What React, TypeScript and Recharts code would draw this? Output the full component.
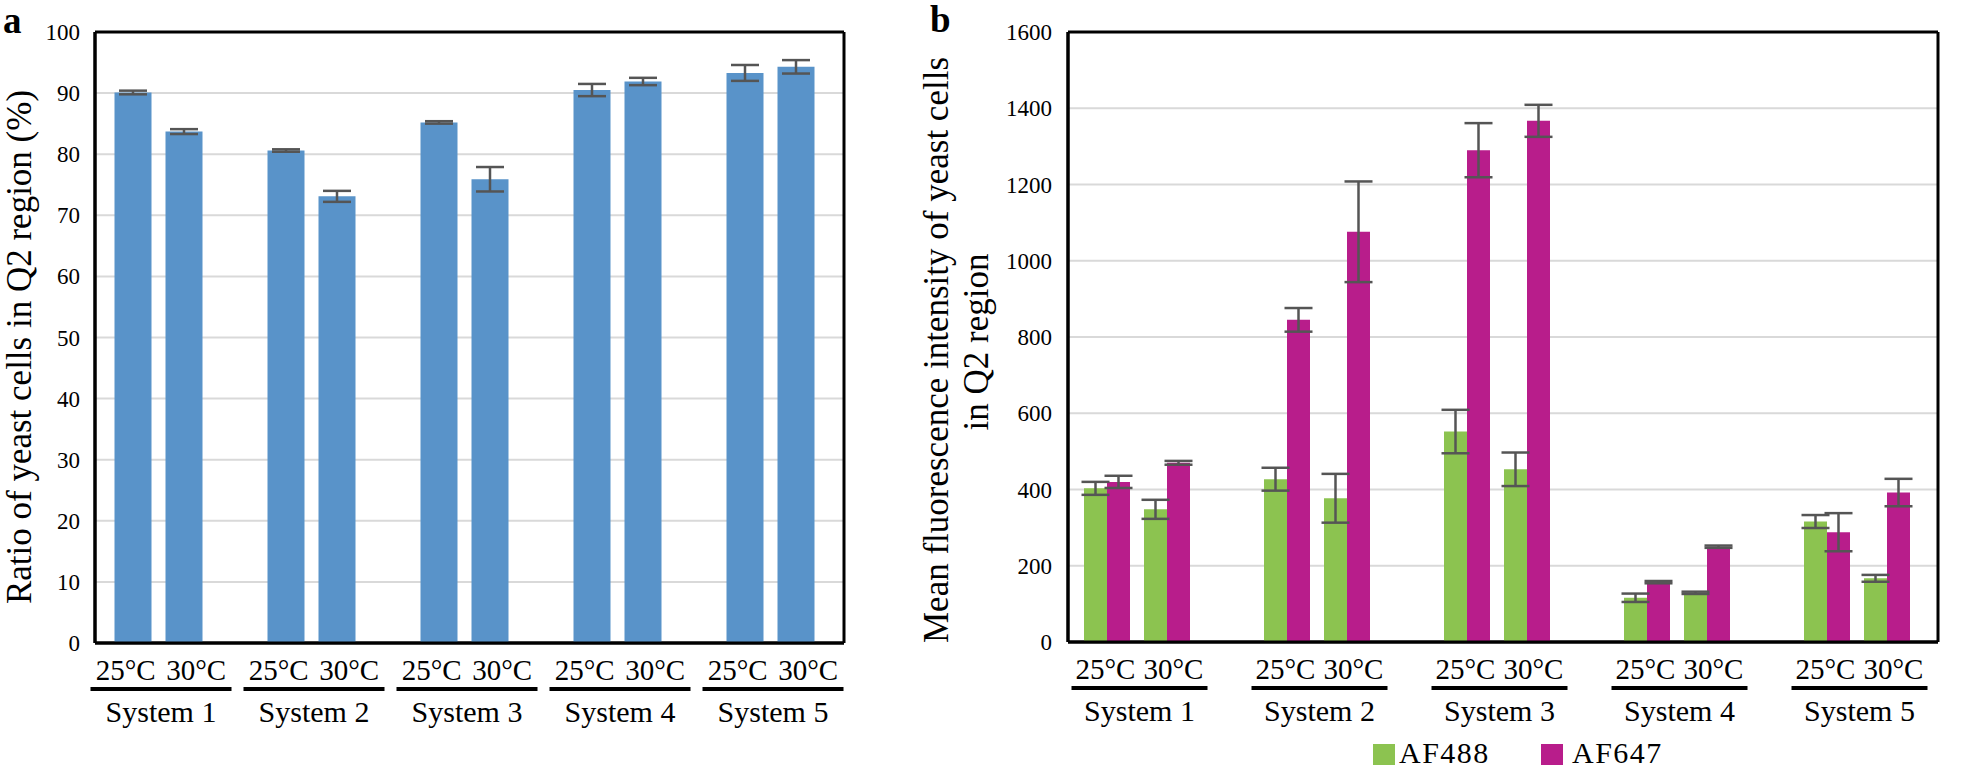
import React from 'react';
import { BarChart, Bar, XAxis, YAxis, CartesianGrid, ErrorBar, Legend } from 'recharts';

const systems = ['System 1', 'System 2', 'System 3', 'System 4', 'System 5'];
const temps = ['25°C', '30°C'];
const ratioMean = [90.1, 83.7, 80.6, 73.1, 85.2, 75.9, 90.5, 91.9, 93.3, 94.3];
const ratioErr = [0.3, 0.4, 0.2, 0.9, 0.2, 2.0, 1.0, 0.6, 1.3, 1.1];
const af488Mean = [403, 348, 427, 377, 552, 453, 116, 129, 316, 167];
const af488Err = [17, 25, 30, 64, 57, 44, 11, 3, 17, 9];
const af647Mean = [420, 470, 845, 1076, 1290, 1367, 157, 250, 288, 392];
const af647Err = [16, 5, 31, 132, 71, 42, 3, 3, 50, 36];
const ticksA = [0, 10, 20, 30, 40, 50, 60, 70, 80, 90, 100];
const ticksB = [0, 200, 400, 600, 800, 1000, 1200, 1400, 1600];

const FONT = '"Liberation Serif", "Times New Roman", serif';
const BLUE = '#5993C9';
const GREEN = '#8CC350';
const MAGENTA = '#B81D8B';
const ERR = '#555555';

type Row = { key: string; sys: string; temp: string; ratio?: number; ratioErr?: number; g?: number; gErr?: number; m?: number; mErr?: number };

const rows: Row[] = [];
systems.forEach((sys, s) => {
  temps.forEach((temp, t) => {
    const i = s * 2 + t;
    rows.push({ key: `${sys}-${temp}`, sys, temp, ratio: ratioMean[i], ratioErr: ratioErr[i], g: af488Mean[i], gErr: af488Err[i], m: af647Mean[i], mErr: af647Err[i] });
  });
  if (s < systems.length - 1) rows.push({ key: `gap-${s}`, sys: '', temp: '' });
});

const makeTick = (w: number, shift: number, half: number) => (props: any) => {
  const { x, y, payload } = props;
  const row = rows.find((r) => r.key === payload.value);
  if (!row || row.temp !== temps[0]) return <g />;
  const c = x + w / 2 + shift;
  return (
    <g>
      <text x={c - half / 2} y={y + 37} textAnchor="middle" fontSize={29} fontFamily={FONT} fill="#000">{temps[0]}</text>
      <text x={c + half / 2} y={y + 37} textAnchor="middle" fontSize={29} fontFamily={FONT} fill="#000">{temps[1]}</text>
      <line x1={c - half} x2={c + half} y1={y + 46} y2={y + 46} stroke="#000" strokeWidth={4} />
      <text x={c} y={y + 79} textAnchor="middle" fontSize={30} fontFamily={FONT} fill="#000">{row.sys}</text>
    </g>
  );
};

const YTick = (props: any) => {
  const { x, y, payload } = props;
  return (
    <text x={x} y={y} dy={8} textAnchor="end" fontSize={23} fontFamily={FONT} fill="#000">{payload.value}</text>
  );
};

const TitleA = () => (
  <g>
    <text x={3} y={33} fontSize={37} fontWeight="bold" fontFamily={FONT} fill="#000">a</text>
    <text x={31} y={347} transform="rotate(-90 31 347)" textAnchor="middle" fontSize={35} fontFamily={FONT} fill="#000">
      Ratio of yeast cells in Q2 region (%)
    </text>
  </g>
);

const TitleB = () => (
  <g>
    <text x={50} y={32} fontSize={37} fontWeight="bold" fontFamily={FONT} fill="#000">b</text>
    <text x={68} y={350} transform="rotate(-90 68 350)" textAnchor="middle" fontSize={35} fontFamily={FONT} fill="#000">
      Mean fluorescence intensity of yeast cells
    </text>
    <text x={108} y={342} transform="rotate(-90 108 342)" textAnchor="middle" fontSize={35} fontFamily={FONT} fill="#000">
      in Q2 region
    </text>
  </g>
);

const LegendB = () => (
  <div style={{ position: 'relative', width: 300, height: 30, fontFamily: FONT, fontSize: 30, color: '#000' }}>
    <div style={{ position: 'absolute', left: 0, top: 4, width: 22, height: 21, background: GREEN }} />
    <div style={{ position: 'absolute', left: 26, top: -4, lineHeight: '34px', letterSpacing: 1.5, whiteSpace: 'nowrap' }}>AF488</div>
    <div style={{ position: 'absolute', left: 168, top: 4, width: 22, height: 21, background: MAGENTA }} />
    <div style={{ position: 'absolute', left: 199, top: -4, lineHeight: '34px', letterSpacing: 1.5, whiteSpace: 'nowrap' }}>AF647</div>
  </div>
);

const frameH = (p: any) => [p.offset.top, p.offset.top + p.offset.height];
const frameV = (p: any) => [p.offset.left, p.offset.left + p.offset.width];

export default function App() {
  return (
    <div style={{ position: 'absolute', left: 0, top: 0, width: 1961, height: 772, background: '#fff' }}>
      <div style={{ position: 'absolute', left: 0, top: 0 }}>
        <BarChart width={870} height={772} data={rows} margin={{ top: 32, right: 26, left: 0, bottom: 9 }} barSize={37}>
          <CartesianGrid vertical={false} stroke="#d9d9d9" strokeWidth={2} />
          <CartesianGrid stroke="#000" strokeWidth={3} horizontalCoordinatesGenerator={frameH} verticalCoordinatesGenerator={frameV} />
          <XAxis dataKey="key" interval={0} height={120} padding={{ left: 12.5, right: 22.5 }} tickSize={0} tickMargin={0} tickLine={false}
            axisLine={{ stroke: '#000', strokeWidth: 3 }} tick={makeTick(51, 2.5, 70.5)} />
          <YAxis width={95} domain={[0, 100]} ticks={ticksA} interval={0} tickSize={0} tickMargin={15} tickLine={false}
            axisLine={{ stroke: '#000', strokeWidth: 3 }} tick={<YTick />} label={{ content: () => <TitleA /> }} />
          <Bar dataKey="ratio" fill={BLUE} isAnimationActive={false}>
            <ErrorBar dataKey="ratioErr" width={14} strokeWidth={2.5} stroke={ERR} />
          </Bar>
        </BarChart>
      </div>
      <div style={{ position: 'absolute', left: 880, top: 0 }}>
        <BarChart width={1081} height={772} data={rows} margin={{ top: 32, right: 23, left: 0, bottom: 10 }} barSize={23} barGap={0}>
          <CartesianGrid vertical={false} stroke="#d9d9d9" strokeWidth={2} />
          <CartesianGrid stroke="#000" strokeWidth={3} horizontalCoordinatesGenerator={frameH} verticalCoordinatesGenerator={frameV} />
          <XAxis dataKey="key" interval={0} height={120} padding={{ left: 9, right: 21 }} tickSize={0} tickMargin={0} tickLine={false}
            axisLine={{ stroke: '#000', strokeWidth: 3 }} tick={makeTick(60, 2.5, 68)} />
          <YAxis width={188} domain={[0, 1600]} ticks={ticksB} interval={0} tickSize={0} tickMargin={16} tickLine={false}
            axisLine={{ stroke: '#000', strokeWidth: 3 }} tick={<YTick />} label={{ content: () => <TitleB /> }} />
          <Legend layout="vertical" align="center" verticalAlign="middle" content={() => <LegendB />}
            wrapperStyle={{ left: 493, top: 740, width: 300, height: 30 }} />
          <Bar dataKey="g" name="AF488" fill={GREEN} isAnimationActive={false}>
            <ErrorBar dataKey="gErr" width={14} strokeWidth={2.5} stroke={ERR} />
          </Bar>
          <Bar dataKey="m" name="AF647" fill={MAGENTA} isAnimationActive={false}>
            <ErrorBar dataKey="mErr" width={14} strokeWidth={2.5} stroke={ERR} />
          </Bar>
        </BarChart>
      </div>
    </div>
  );
}
